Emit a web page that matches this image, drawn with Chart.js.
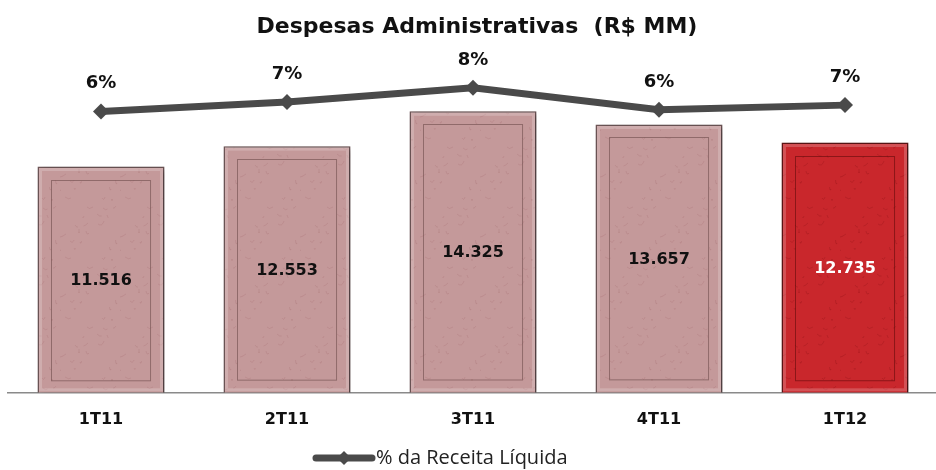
<!DOCTYPE html>
<html>
<head>
<meta charset="utf-8">
<script src="https://cdn.jsdelivr.net/npm/chart.js@4/dist/chart.umd.min.js"></script>
<style>
  html, body { margin: 0; padding: 0; background: #fff; overflow: hidden; }
  #wrap { position: relative; width: 946px; height: 470px; }
</style>
</head>
<body>
<div id="wrap"><canvas id="chart"></canvas></div>
<script>
// data
const categories = ['1T11', '2T11', '3T11', '4T11', '1T12'];
const despesas = [11516, 12553, 14325, 13657, 12735];
const percReceita = [6.2, 6.8, 7.7, 6.3, 6.6];
const highlightIndex = 4;

function fmtBR(v) {
  return String(v).replace(/\B(?=(\d{3})+(?!\d))/g, '.');
}

// mottled fill like the original bars (fixed strokes, no randomness)
function makeTexture(base, dark) {
  var c = document.createElement('canvas');
  c.width = 60; c.height = 60;
  var g = c.getContext('2d');
  g.fillStyle = base;
  g.fillRect(0, 0, 60, 60);
  g.strokeStyle = dark;
  g.lineWidth = 1;
  for (var i = 0; i < 22; i++) {
    var x = (i * 37) % 60, y = (i * 23 + (i % 3) * 11) % 60;
    var dx = ((i * 7) % 9) - 4, dy = ((i * 5) % 7) - 3;
    g.beginPath();
    g.moveTo(x, y);
    g.quadraticCurveTo(x + dx, y + 3, x + dx * 1.5, y + dy);
    g.stroke();
  }
  return g.createPattern(c, 'repeat');
}

var pinkFill = makeTexture('#c4999a', 'rgba(160,100,105,0.22)');
var redFill = makeTexture('#c9272c', 'rgba(130,15,20,0.25)');

var barColors = despesas.map(function (v, i) { return i === highlightIndex ? redFill : pinkFill; });
var barBorders = despesas.map(function (v, i) { return i === highlightIndex ? '#5e1515' : '#6e5556'; });

const barStyle = {
  id: 'barStyle',
  beforeDatasetDraw(chart, args) {
    if (args.index !== 0) return;
    var ctx = chart.ctx;
    ctx.save();
    ctx.shadowColor = 'rgba(0,0,0,0.35)';
    ctx.shadowBlur = 6;
    ctx.shadowOffsetX = 3;
    ctx.shadowOffsetY = 2;
  },
  afterDatasetDraw(chart, args) {
    if (args.index !== 0) return;
    var ctx = chart.ctx;
    ctx.restore();
    var meta = chart.getDatasetMeta(0);
    ctx.save();
    meta.data.forEach(function (el, i) {
      var p = el.getProps(['x', 'y', 'base', 'width'], true);
      var left = p.x - p.width / 2;
      // bevel highlight
      ctx.strokeStyle = 'rgba(255,255,255,0.2)';
      ctx.lineWidth = 3;
      ctx.strokeRect(left + 3, p.y + 3, p.width - 6, p.base - p.y - 6);
      // inner frame
      ctx.strokeStyle = i === highlightIndex ? 'rgba(90,10,10,0.55)' : 'rgba(110,75,75,0.6)';
      ctx.lineWidth = 1;
      ctx.strokeRect(Math.round(left + 14) + 0.5, Math.round(p.y + 13) + 0.5, p.width - 28, p.base - p.y - 26);
      // value label
      ctx.font = 'bold 16px "DejaVu Sans"';
      ctx.textAlign = 'center';
      ctx.textBaseline = 'middle';
      ctx.fillStyle = i === highlightIndex ? '#ffffff' : '#111111';
      ctx.fillText(fmtBR(despesas[i]), p.x, (p.y + p.base) / 2 + 1);
    });
    ctx.restore();
  }
};

const lineLabels = {
  id: 'lineLabels',
  afterDatasetsDraw(chart) {
    var ctx = chart.ctx;
    var meta = chart.getDatasetMeta(1);
    ctx.save();
    ctx.font = 'bold 18px "DejaVu Sans"';
    ctx.textAlign = 'center';
    ctx.textBaseline = 'middle';
    ctx.fillStyle = '#111111';
    meta.data.forEach(function (pt, i) {
      ctx.fillText(Math.round(percReceita[i]) + '%', pt.x, pt.y - 28);
    });
    ctx.restore();
  }
};

const lineLegend = {
  id: 'lineLegend',
  afterDraw(chart) {
    var ctx = chart.ctx;
    var y = 458;
    ctx.save();
    ctx.strokeStyle = '#4a4a4a';
    ctx.lineWidth = 7;
    ctx.lineCap = 'round';
    ctx.beginPath();
    ctx.moveTo(316, y);
    ctx.lineTo(372, y);
    ctx.stroke();
    ctx.fillStyle = '#4a4a4a';
    ctx.beginPath();
    ctx.moveTo(344, y - 7);
    ctx.lineTo(351, y);
    ctx.lineTo(344, y + 7);
    ctx.lineTo(337, y);
    ctx.closePath();
    ctx.fill();
    ctx.font = '20px "Open Sans"';
    ctx.textAlign = 'left';
    ctx.textBaseline = 'middle';
    ctx.fillStyle = '#222222';
    ctx.fillText('% da Receita Líquida', 376, y);
    ctx.restore();
  }
};

new Chart(document.getElementById('chart'), {
  type: 'bar',
  data: {
    labels: categories,
    datasets: [{
      label: 'Despesas Administrativas',
      data: despesas,
      backgroundColor: barColors,
      borderColor: barBorders,
      borderWidth: 1.5,
      categoryPercentage: 1,
      barPercentage: 0.683,
      yAxisID: 'y',
      order: 1
    }, {
      label: '% da Receita Líquida',
      type: 'line',
      data: percReceita,
      borderColor: '#4a4a4a',
      borderWidth: 7,
      pointStyle: 'rectRot',
      pointRadius: 8,
      pointBackgroundColor: '#4a4a4a',
      pointBorderWidth: 0,
      tension: 0,
      yAxisID: 'y2',
      order: 0
    }]
  },
  options: {
    responsive: true,
    maintainAspectRatio: false,
    animation: false,
    layout: { padding: { left: 8, right: 0, top: 0, bottom: 24 } },
    plugins: {
      legend: { display: false },
      tooltip: { enabled: false },
      title: {
        display: true,
        text: 'Despesas Administrativas  (R$ MM)',
        font: { family: 'DejaVu Sans', size: 22, weight: 'bold' },
        color: '#111111',
        padding: { top: 14, bottom: 38 }
      }
    },
    scales: {
      x: {
        grid: { display: false, drawTicks: false },
        border: { display: true, color: '#8a8a8a', width: 1.5 },
        ticks: {
          font: { family: 'DejaVu Sans', size: 16, weight: 'bold' },
          color: '#111111',
          padding: 17
        }
      },
      y: { display: false, min: 0, max: 16000 },
      y2: { display: false, min: -11.7, max: 8.3 }
    }
  },
  plugins: [barStyle, lineLabels, lineLegend]
});
</script>
</body>
</html>
